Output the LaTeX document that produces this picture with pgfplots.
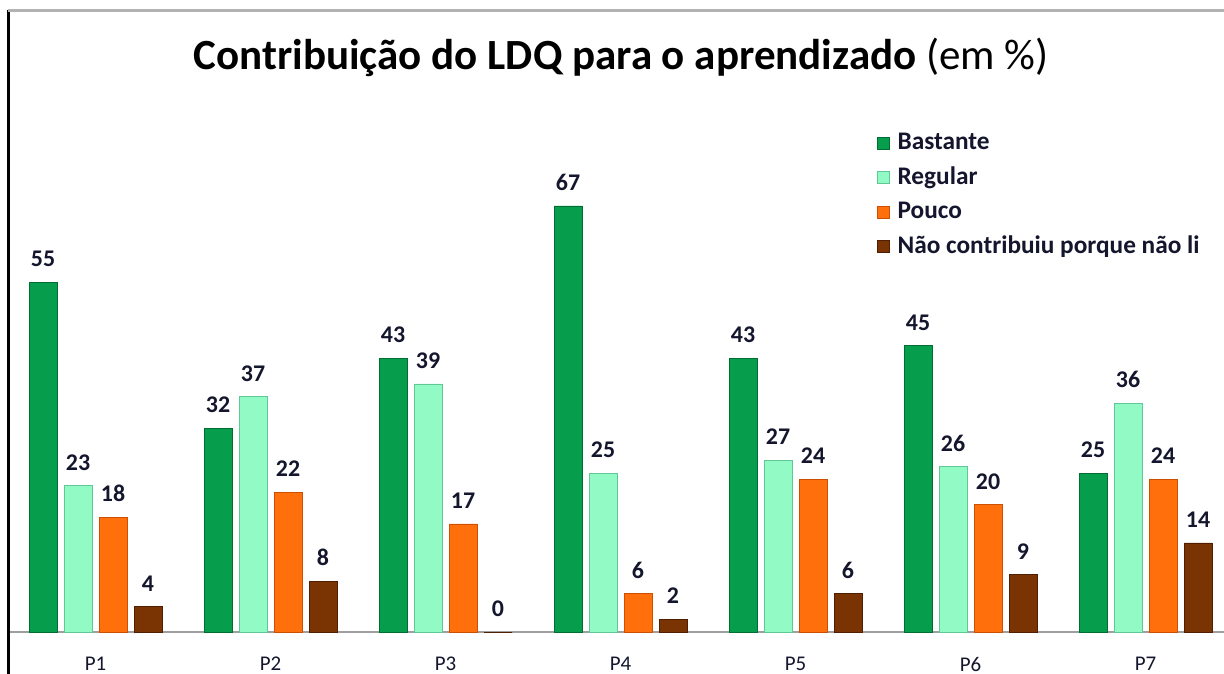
\documentclass[border=0pt]{standalone}
\usepackage{fontspec}
\setmainfont{Carlito}
\usepackage{pgfplots}
\pgfplotsset{compat=1.18}
\definecolor{cB}{RGB}{6,158,76}
\definecolor{cBd}{RGB}{0,110,50}
\definecolor{cR}{RGB}{146,250,196}
\definecolor{cRd}{RGB}{95,200,150}
\definecolor{cP}{RGB}{255,112,12}
\definecolor{cPd}{RGB}{205,80,0}
\definecolor{cN}{RGB}{122,52,4}
\definecolor{cNd}{RGB}{80,30,0}
\definecolor{lbl}{RGB}{20,22,45}
\begin{document}
\begin{tikzpicture}[x=0.5bp,y=0.5bp]
\useasboundingbox (0,0) rectangle (1224,-673);
\clip (0,0) rectangle (1224,-673);
\fill[white] (0,0) rectangle (1224,-673);
\begin{axis}[
  at={(4bp,-316bp)}, anchor=south west,
  scale only axis, width=612.5bp, height=311bp,
  xmin=-0.5, xmax=6.5, ymin=0, ymax=97.8,
  ybar, bar width=14bp,
  hide y axis,
  axis x line*=bottom,
  x axis line style={draw=gray!75, line width=1bp, -},
  xtick={0,1,2,3,4,5,6},
  xticklabels={P1,P2,P3,P4,P5,P6,P7},
  major tick length=0pt,
  xticklabel style={font=\fontsize{10.5}{12}\selectfont, text=lbl, anchor=north, yshift=-9bp},
  /pgf/number format/assume math mode=true,
  nodes near coords,
  every node near coord/.append style={font=\bfseries\fontsize{12}{14}\selectfont, text=lbl, inner sep=0pt, anchor=south, yshift=7.5bp},
  legend style={at={(0.704,0.815)}, anchor=north west, draw=none, fill=none,
     font=\bfseries\fontsize{12.7}{14}\selectfont, text=lbl, row sep=3.2bp,
     /tikz/every odd column/.append style={column sep=2bp}},
  legend cell align=left,
  legend image code/.code={\fill[#1] (0bp,-3bp) rectangle (6bp,3bp);},
  clip=false,
]
\addplot[fill=cB, draw=cBd, bar shift=-26.25bp] coordinates {(0,55) (1,32) (2,43) (3,67) (4,43) (5,45) (6,25)};
\addplot[fill=cR, draw=cRd, bar shift=-8.75bp] coordinates {(0,23) (1,37) (2,39) (3,25) (4,27) (5,26) (6,36)};
\addplot[fill=cP, draw=cPd, bar shift=8.75bp] coordinates {(0,18) (1,22) (2,17) (3,6) (4,24) (5,20) (6,24)};
\addplot[fill=cN, draw=cNd, bar shift=26.25bp] coordinates {(0,4) (1,8) (2,0) (3,2) (4,6) (5,9) (6,14)};
\legend{Bastante, Regular, Pouco, Não contribuiu porque não li}
\end{axis}
\draw[black, line width=1.2bp] (8.5,-10) -- (8.5,-700);
\draw[gray!60, line width=1.2bp] (8,-10.5) -- (1300,-10.5);
\node[text=black] at (621,-57) {\fontsize{21.6}{26}\selectfont\textbf{Contribuição do LDQ para o aprendizado} (em \%)};
\end{tikzpicture}
\end{document}
